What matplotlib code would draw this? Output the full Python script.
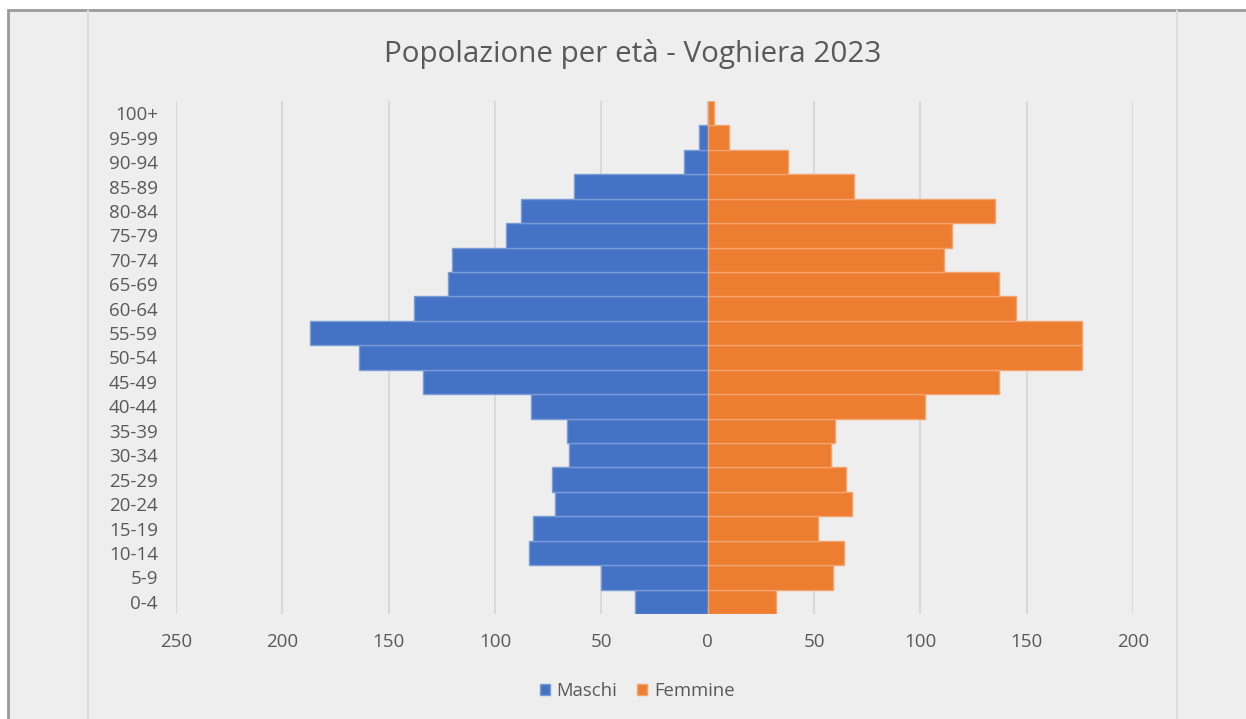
import numpy as np
import matplotlib
matplotlib.use('Agg')
import matplotlib.pyplot as plt
from matplotlib.patches import Rectangle
from matplotlib.lines import Line2D
from matplotlib.ticker import FuncFormatter

plt.rcParams['font.family'] = ['Open Sans', 'DejaVu Sans']

# ---- data ----
classi = ['0-4', '5-9', '10-14', '15-19', '20-24', '25-29', '30-34', '35-39', '40-44', '45-49',
          '50-54', '55-59', '60-64', '65-69', '70-74', '75-79', '80-84', '85-89', '90-94', '95-99', '100+']
maschi = [34, 50, 84, 82, 72, 73, 65, 66, 83, 134, 164, 187, 138, 122, 120, 95, 88, 63, 11, 4, 0]
femmine = [32, 59, 64, 52, 68, 65, 58, 60, 102, 137, 176, 176, 145, 137, 111, 115, 135, 69, 38, 10, 3]
xticks = [-250, -200, -150, -100, -50, 0, 50, 100, 150, 200]

BLUE = '#4472c4'; ORANGE = '#ed7d31'; TXT = '#595959'; BG = '#eeeeee'
W, H = 1246, 719
fig = plt.figure(figsize=(W / 100, H / 100), dpi=100)
fig.patch.set_facecolor('white')

# chart frame (Excel-like)
fig.patches.append(Rectangle((8 / W, -0.05), 1.1, (H - 10) / H + 0.05, transform=fig.transFigure,
                             facecolor=BG, edgecolor='#9a9a9a', lw=2, zorder=-3))
for xp in (88, 1177):
    fig.lines.append(Line2D([xp / W, xp / W], [0, (H - 11) / H], transform=fig.transFigure,
                            color='#dcdcdc', lw=1.5, zorder=-2))

ax = fig.add_axes([176 / W, (H - 614) / H, (1133 - 176) / W, (614 - 101) / H])
ax.set_facecolor(BG)
y = np.arange(len(classi))
ax.barh(y, -np.array(maschi), height=1, color=BLUE, edgecolor='#7b9bd6', lw=1, label='Maschi', zorder=3)
ax.barh(y, femmine, height=1, color=ORANGE, edgecolor='#f3a46e', lw=1, label='Femmine', zorder=3)

ax.set_xlim(-250, 200); ax.set_ylim(-0.5, len(classi) - 0.5)
ax.set_xticks(xticks)
ax.xaxis.set_major_formatter(FuncFormatter(lambda v, p: f'{abs(v):.0f}'))
ax.set_yticks(y); ax.set_yticklabels(classi)
ax.grid(axis='x', color='#d9d9d9', lw=1.5, zorder=0); ax.grid(axis='y', visible=False)
ax.set_axisbelow(True)
for s in ax.spines.values(): s.set_visible(False)
ax.tick_params(axis='both', length=0, labelsize=13.5, colors=TXT)
ax.tick_params(axis='x', pad=14); ax.tick_params(axis='y', pad=13)

fig.text(633 / W, 1 - 54 / H, 'Popolazione per età - Voghiera 2023', ha='center', va='center',
         fontsize=21.3, color=TXT)
fig.legend(loc='center', bbox_to_anchor=(637 / W, 1 - 691 / H), ncol=2, frameon=False,
           fontsize=13.3, labelcolor=TXT, handlelength=0.55, handleheight=0.55, handletextpad=0.35,
           columnspacing=1.1)

fig.savefig('out.png', dpi=100, facecolor=fig.get_facecolor())
